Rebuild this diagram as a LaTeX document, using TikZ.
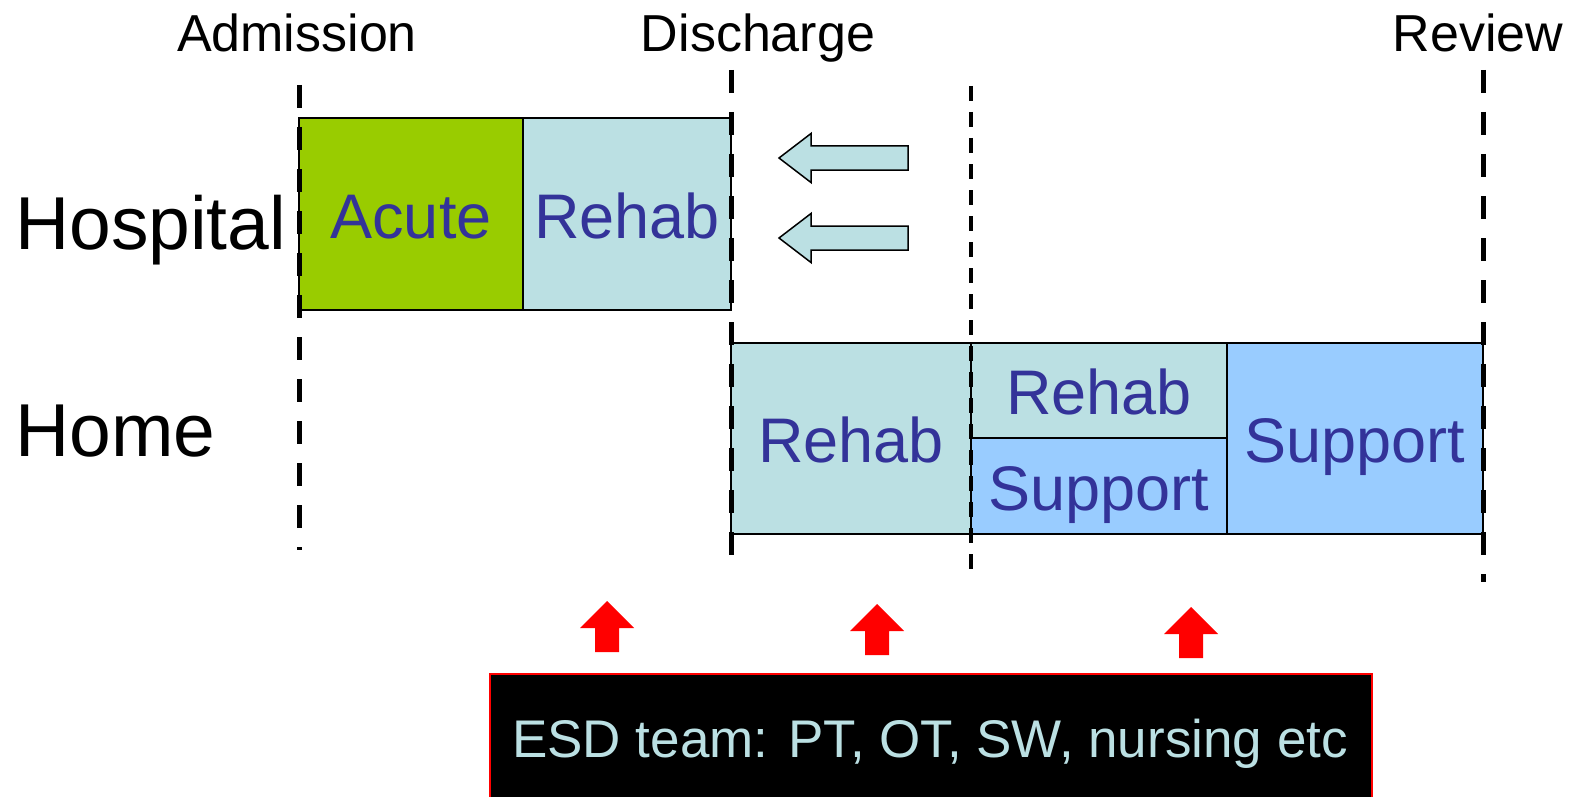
\documentclass[tikz,border=0pt]{standalone}
\usepackage{fontspec}
\setmainfont{Liberation Sans}
\usetikzlibrary{positioning}
\definecolor{acutegreen}{HTML}{99CC00}
\definecolor{rehabblue}{HTML}{BBE0E3}
\definecolor{supportblue}{HTML}{99CCFF}
\definecolor{labelblue}{HTML}{333399}

\begin{document}
\begin{tikzpicture}[x=1pt, y=-1pt,
		basic/.style   = {draw, line width=1.5pt, rectangle, inner sep=0pt, outer sep=0pt, text=labelblue, text height=48pt, text depth=0pt, font=\fontsize{63}{70}\selectfont},
		acute/.style   = {basic, fill=acutegreen, minimum width=224pt, minimum height=192pt},
		rehab/.style   = {basic, fill=rehabblue},
		support/.style = {basic, fill=supportblue},
		rowlabel/.style  = {anchor=base west, inner sep=0pt, font=\fontsize{75}{80}\selectfont},
		timelabel/.style = {anchor=base, inner sep=0pt, font=\fontsize{52}{60}\selectfont},
		bigdash/.style   = {line width=5pt, dash pattern=on 23pt off 19pt},
		smalldash/.style = {line width=3.5pt, dash pattern=on 15pt off 11pt},
		backarrow/.style = {draw, line width=1.5pt, fill=rehabblue, line join=miter},
		esdarrow/.style  = {fill=red}]
		
		\useasboundingbox (0,0) rectangle (1574,797);
		
		% time points along the top
		\node[timelabel] (admission) at (297,52) {Admission};
		\node[timelabel] (discharge) at (758,52) {Discharge};
		\node[timelabel] (review) at (1478,52) {Review};
		
		% row labels
		\node[rowlabel] (hospital) at (15,249) {Hospital};
		\node[rowlabel] (home) at (15,456) {Home};
		
		% hospital stay
		\node[acute, anchor=north west] (acute) at (299,118) {Acute};
		\node[rehab, minimum width=208pt, minimum height=192pt, right=0pt of acute] (hrehab) {Rehab};
		
		% care at home after discharge
		\node[rehab, minimum width=240pt, minimum height=191pt, anchor=north west] (rehab1) at (731,343) {Rehab};
		\node[rehab, minimum width=256pt, minimum height=95pt, anchor=north west] (rehab2) at (rehab1.north east) {Rehab};
		\node[support, minimum width=256pt, minimum height=96pt, below=0pt of rehab2] (support1) {Support};
		\node[support, minimum width=256pt, minimum height=191pt, anchor=north west] (support2) at (rehab2.north east) {Support};
		
		% dashed time lines
		\draw[bigdash] (299,85) -- (299,550);
		\draw[bigdash] (731,70) -- (731,556);
		\draw[smalldash] (971,86) -- (971,578);
		\draw[bigdash] (1483,70) -- (1483,582);
		
		% arrows pointing back to hospital
		\foreach \y in {158,238}
		\draw[backarrow] (779,\y) -- ++(32,-24.5) -- ++(0,12.5) -- ++(97,0) -- ++(0,24) -- ++(-97,0) -- ++(0,12.5) -- cycle;
		
		% ESD team
		\node[draw=red, line width=2pt, fill=black, minimum width=882pt, minimum height=140pt, anchor=north west] (esd) at (489,673) {};
		\node[anchor=base, inner sep=0pt, text=rehabblue, font=\fontsize{53}{60}\selectfont] (esdtext) at (930,757) {ESD team: PT, OT, SW, nursing etc};
		
		% red arrows up from the team
		\foreach \x/\y in {607/601, 877/604, 1191/607}
		\fill[esdarrow] (\x,\y) -- ++(27,27) -- ++(-15,0) -- ++(0,24) -- ++(-24,0) -- ++(0,-24) -- ++(-15,0) -- cycle;
		
	\end{tikzpicture}
\end{document}
